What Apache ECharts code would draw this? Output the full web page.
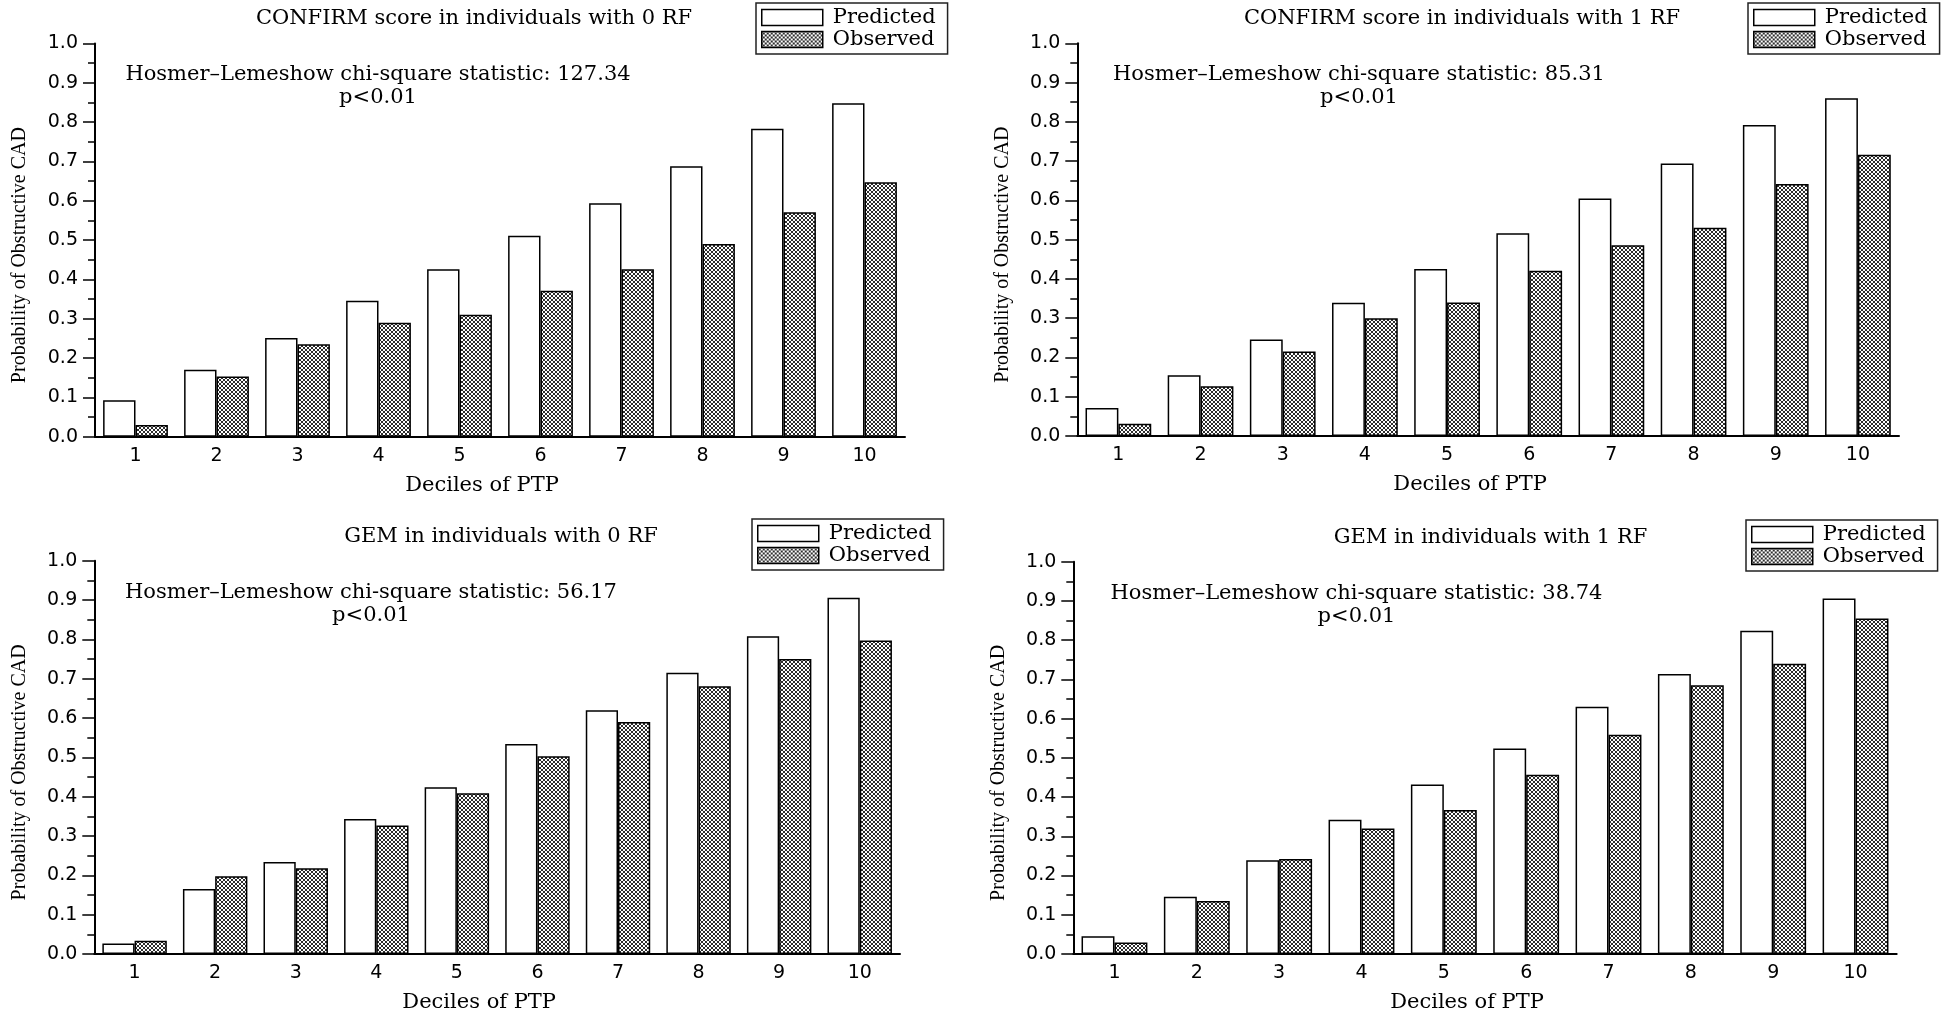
<!DOCTYPE html>
<html><head><meta charset="utf-8">
<script src="https://cdn.jsdelivr.net/npm/echarts@6/dist/echarts.min.js"></script>
<style>html,body{margin:0;padding:0;background:#fff}#c{width:1946px;height:1014px}</style>
</head><body><div id="c"></div>
<script>
// ---------- data ----------
const deciles = ['1','2','3','4','5','6','7','8','9','10'];
const yTickLabels = ['0.0','0.1','0.2','0.3','0.4','0.5','0.6','0.7','0.8','0.9','1.0'];
const seriesNames = ['Predicted','Observed'];
const panelTitles = [
  'CONFIRM score in individuals with 0 RF',
  'CONFIRM score in individuals with 1 RF',
  'GEM in individuals with 0 RF',
  'GEM in individuals with 1 RF'
];
const hlStatistics = ['127.34','85.31','56.17','38.74'];
const pValues = ['p<0.01','p<0.01','p<0.01','p<0.01'];
const confirm0Predicted = [0.093,0.170,0.251,0.346,0.426,0.511,0.594,0.688,0.783,0.848];
const confirm0Observed  = [0.030,0.153,0.235,0.290,0.310,0.371,0.426,0.490,0.571,0.647];
const confirm1Predicted = [0.071,0.155,0.246,0.339,0.425,0.516,0.605,0.694,0.792,0.860];
const confirm1Observed  = [0.031,0.127,0.215,0.300,0.340,0.421,0.486,0.530,0.642,0.716];
const gem0Predicted = [0.027,0.165,0.234,0.343,0.424,0.534,0.620,0.715,0.808,0.906];
const gem0Observed  = [0.034,0.198,0.218,0.327,0.409,0.503,0.590,0.681,0.750,0.797];
const gem1Predicted = [0.045,0.146,0.239,0.342,0.432,0.524,0.630,0.714,0.824,0.906];
const gem1Observed  = [0.029,0.135,0.242,0.320,0.367,0.457,0.559,0.685,0.740,0.855];
const xAxisTitle = 'Deciles of PTP';
const yAxisTitle = 'Probability of Obstructive CAD';
const statLabel = 'Hosmer\u2013Lemeshow chi-square statistic: ';

const predictedSets = [confirm0Predicted, confirm1Predicted, gem0Predicted, gem1Predicted];
const observedSets  = [confirm0Observed, confirm1Observed, gem0Observed, gem1Observed];

// ---------- layout (pixels) ----------
const layouts = [
  {grid:{left:95,top:43.5,width:810,height:393.2}, tx:474, ty:8, ax:378, ay:86.5, lx:756, ly:3},
  {grid:{left:1077.3,top:43.3,width:821.7,height:392.7}, tx:1462, ty:8, ax:1359, ay:86.5, lx:1748, ly:3},
  {grid:{left:94.3,top:560.7,width:805.7,height:395.3}, tx:501, ty:526, ax:371, ay:604.3, lx:752, ly:519},
  {grid:{left:1073.3,top:561.7,width:823.4,height:395}, tx:1490.5, ty:527, ax:1356.5, ay:604.7, lx:1746, ly:520}
];

function hatchCanvas(){
  const c = document.createElement('canvas'); c.width = 4; c.height = 4;
  const ctx = c.getContext('2d'); const img = ctx.createImageData(4,4);
  for (let y=0;y<4;y++) for (let x=0;x<4;x++){
    const on = (x===y) || (x===3-y);
    const v = on ? 45 : 255; const i = (y*4+x)*4;
    img.data[i]=v; img.data[i+1]=v; img.data[i+2]=v; img.data[i+3]=255;
  }
  ctx.putImageData(img,0,0); return c;
}
const hatch = {image: hatchCanvas(), repeat: 'repeat'};

const serif = 'DejaVu Serif';
const grids=[], xAxes=[], yAxes=[], series=[], titles=[], legends=[], graphics=[];
layouts.forEach((L,i)=>{
  grids.push(Object.assign({containLabel:false}, L.grid));
  xAxes.push({
    type:'category', gridIndex:i, data:deciles, boundaryGap:true,
    axisLine:{lineStyle:{color:'#000',width:2}},
    axisTick:{length:5, lineStyle:{color:'#000',width:1.5}},
    axisLabel:{margin:10, fontFamily:'DejaVu Sans', fontSize:19, color:'#000'},
    splitLine:{show:false},
    name:xAxisTitle, nameLocation:'middle', nameGap:38,
    nameTextStyle:{fontFamily:serif, fontSize:21, color:'#000', padding:[0,36,0,0]}
  });
  yAxes.push({
    type:'value', gridIndex:i, min:0, max:1, interval:0.1,
    axisLine:{show:true, lineStyle:{color:'#000',width:2}},
    axisTick:{show:true, length:12, lineStyle:{color:'#000',width:1.5}},
    minorTick:{show:true, splitNumber:2, length:7, lineStyle:{color:'#000',width:1.5}},
    splitLine:{show:false}, minorSplitLine:{show:false},
    axisLabel:{margin:17, fontFamily:'DejaVu Sans', fontSize:19, color:'#000',
      formatter:v=>yTickLabels[Math.round(v*10)]},
    name:yAxisTitle, nameLocation:'middle', nameGap:65,
    nameTextStyle:{fontFamily:'Liberation Serif', fontSize:20, color:'#000', padding:[0,30,0,0]}
  });
  series.push({
    type:'bar', name:seriesNames[0], xAxisIndex:i, yAxisIndex:i, data:predictedSets[i],
    barGap:'0%', barCategoryGap:'20%',
    itemStyle:{color:'#fff', borderColor:'#000', borderWidth:1.5}
  });
  series.push({
    type:'bar', name:seriesNames[1], xAxisIndex:i, yAxisIndex:i, data:observedSets[i],
    barGap:'0%', barCategoryGap:'20%',
    itemStyle:{color:hatch, borderColor:'#000', borderWidth:1.5}
  });
  titles.push({
    text:panelTitles[i], left:L.tx, top:L.ty, textAlign:'center', padding:0,
    textStyle:{fontFamily:serif, fontSize:21, fontWeight:'normal', color:'#000'}
  });
  legends.push({
    left:L.lx, top:L.ly, orient:'vertical', icon:'rect', selectedMode:false,
    itemWidth:61, itemHeight:16, itemGap:1, padding:[4,12,4,5],
    borderColor:'#222', borderWidth:1.5, backgroundColor:'#fff',
    data:seriesNames,
    itemStyle:{borderColor:'#000', borderWidth:1.5},
    textStyle:{fontFamily:serif, fontSize:21, color:'#000', lineHeight:16, padding:[0,0,0,5]}
  });
  graphics.push({
    type:'text', x:L.ax, y:L.ay, silent:true,
    style:{text: statLabel + hlStatistics[i] + '\n' + pValues[i],
      fontFamily:serif, fontSize:21, lineHeight:23, fill:'#000',
      align:'center', verticalAlign:'middle'}
  });
});

const chart = echarts.init(document.getElementById('c'), null, {renderer:'canvas'});
chart.setOption({
  animation:false, backgroundColor:'#fff',
  title:titles, legend:legends, grid:grids, xAxis:xAxes, yAxis:yAxes,
  series:series, graphic:graphics, tooltip:{show:false}
});
</script></body></html>
